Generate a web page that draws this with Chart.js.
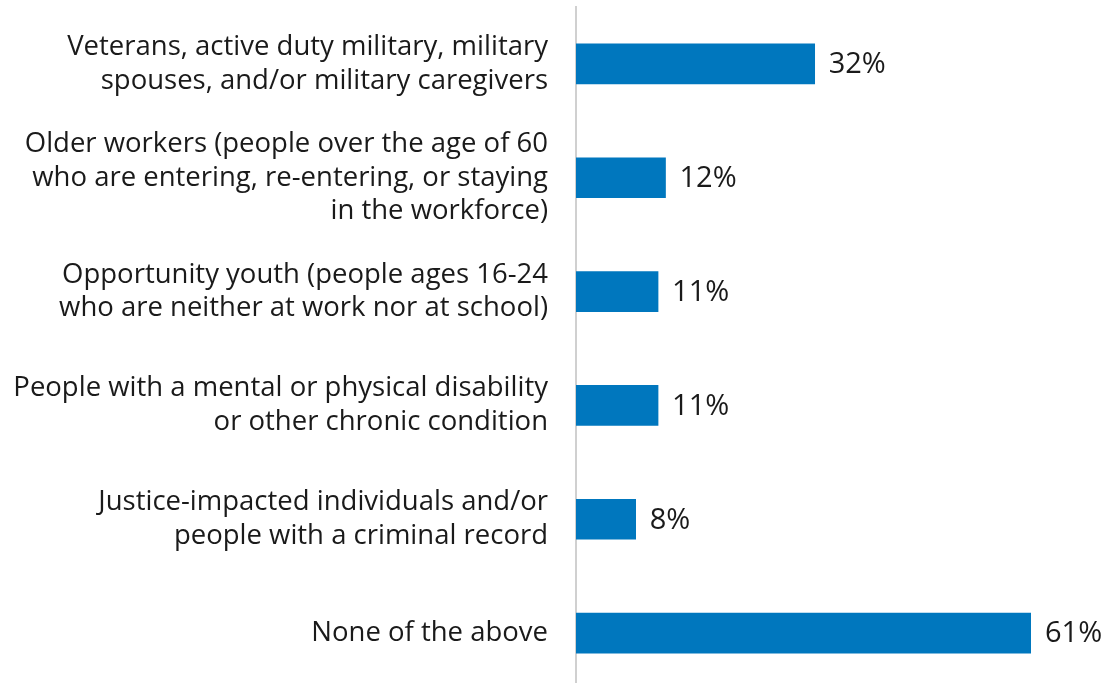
<!DOCTYPE html>
<html>
<head>
<meta charset="utf-8">
<script src="https://cdn.jsdelivr.net/npm/chart.js@4"></script>
<style>
  html, body { margin: 0; padding: 0; background: #fff; overflow: hidden; }
  #wrap { width: 1107px; height: 690px; position: relative; }
</style>
</head>
<body>
<div id="wrap"><canvas id="chart"></canvas></div>
<script>
// Share of respondents by group
const categories = [
  ["Veterans, active duty military, military", "spouses, and/or military caregivers"],
  ["Older workers (people over the age of 60", "who are entering, re-entering, or staying", "in the workforce)"],
  ["Opportunity youth (people ages 16-24", "who are neither at work nor at school)"],
  ["People with a mental or physical disability", "or other chronic condition"],
  ["Justice-impacted individuals and/or", "people with a criminal record"],
  ["None of the above"],
];
const values = [32, 12, 11, 11, 8, 61];

const FONT = "'Open Sans', sans-serif";
const TEXT = "#1a1a1a";

const valueLabels = {
  id: "valueLabels",
  afterDatasetsDraw(chart) {
    const ctx = chart.ctx;
    const meta = chart.getDatasetMeta(0);
    ctx.save();
    ctx.font = "29px " + FONT;
    ctx.fillStyle = TEXT;
    ctx.textAlign = "left";
    ctx.textBaseline = "middle";
    meta.data.forEach((bar, i) => {
      ctx.fillText(values[i] + "%", bar.x + 14, bar.y + 1);
    });
    ctx.restore();
  },
};

new Chart(document.getElementById("chart"), {
  type: "bar",
  data: {
    labels: categories,
    datasets: [
      {
        data: values,
        backgroundColor: "#0077BE",
        borderWidth: 0,
        barThickness: 40,
      },
    ],
  },
  options: {
    indexAxis: "y",
    responsive: true,
    maintainAspectRatio: false,
    animation: false,
    layout: { padding: { top: 7, right: 76, bottom: 0, left: 0 } },
    plugins: {
      legend: { display: false },
      tooltip: { enabled: false },
    },
    scales: {
      x: {
        display: false,
        min: 0,
        max: 61,
      },
      y: {
        grid: { display: false, drawTicks: false },
        border: { display: true, color: "#d0d0d0", width: 2 },
        afterFit: (scale) => {
          scale.width = 576;
          scale.paddingTop = 0;
          scale.paddingBottom = 0;
        },
        ticks: {
          color: TEXT,
          padding: 28,
          font: { family: FONT, size: 27.5, lineHeight: 1.22 },
        },
      },
    },
  },
  plugins: [valueLabels],
});
</script>
</body>
</html>
